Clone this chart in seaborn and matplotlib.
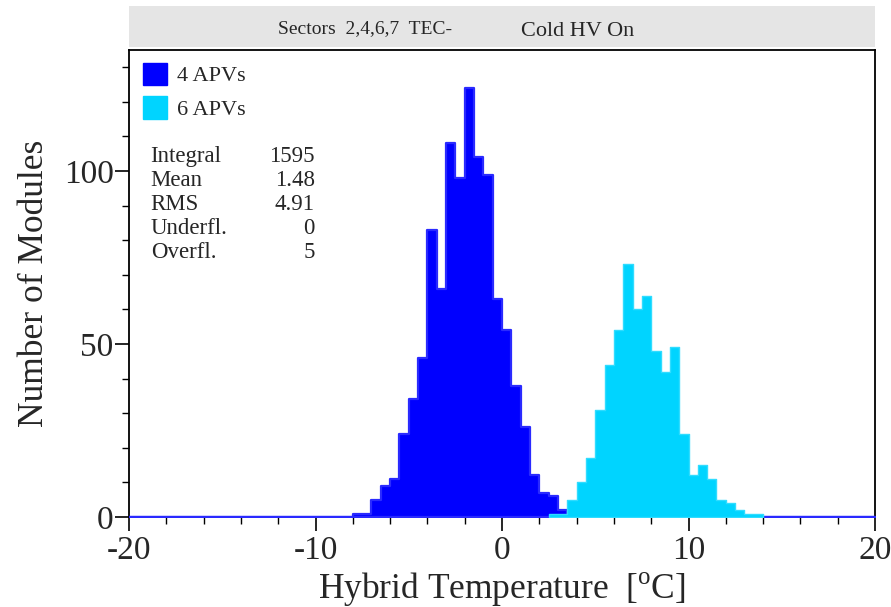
import numpy as np
import pandas as pd
import matplotlib
matplotlib.use("Agg")
import matplotlib.pyplot as plt
from matplotlib.patches import Patch, Rectangle
from matplotlib.ticker import MultipleLocator
import seaborn as sns

# ---- data ----
bin_width = 0.5
blue_left_edges = [-8.0, -7.5, -7.0, -6.5, -6.0, -5.5, -5.0, -4.5, -4.0, -3.5, -3.0, -2.5,
                   -2.0, -1.5, -1.0, -0.5, 0.0, 0.5, 1.0, 1.5, 2.0, 2.5, 3.0]
blue_counts = [1, 1, 5, 9, 11, 24, 34, 46, 83, 66, 108, 98,
               124, 104, 99, 63, 54, 38, 26, 12, 7, 6, 2]
cyan_left_edges = [2.5, 3.0, 3.5, 4.0, 4.5, 5.0, 5.5, 6.0, 6.5, 7.0, 7.5, 8.0,
                   8.5, 9.0, 9.5, 10.0, 10.5, 11.0, 11.5, 12.0, 12.5, 13.0, 13.5]
cyan_counts = [1, 1, 5, 10, 17, 31, 44, 54, 73, 60, 64, 48,
               42, 49, 24, 12, 15, 11, 5, 4, 2, 1, 1]
series_labels = ["4 APVs", "6 APVs"]
stats_names = ["Integral", "Mean", "RMS", "Underfl.", "Overfl."]
stats_values = ["1595", "1.48", "4.91", "0", "5"]
title_left = "Sectors  2,4,6,7  TEC-"
title_right = "Cold HV On"

BLUE = "#0000ff"
CYAN = "#00d4ff"

sns.set_style("white")
plt.rcParams["font.family"] = ["Liberation Serif", "DejaVu Serif"]
plt.rcParams["mathtext.fontset"] = "custom"
plt.rcParams["mathtext.rm"] = "Liberation Serif"
plt.rcParams["axes.unicode_minus"] = False

fig = plt.figure(figsize=(8.91, 6.07), dpi=100)
ax = fig.add_axes([129 / 891, 1 - 517 / 607, (875 - 129) / 891, (517 - 50) / 607])

blue_df = pd.DataFrame({"T": np.array(blue_left_edges) + bin_width / 2,
                        "n": np.array(blue_counts, dtype=float)})
cyan_df = pd.DataFrame({"T": np.array(cyan_left_edges) + bin_width / 2,
                        "n": np.array(cyan_counts, dtype=float)})

cyan_lo = cyan_left_edges[0]
cyan_hi = cyan_left_edges[-1] + bin_width

sns.histplot(data=blue_df, x="T", weights="n", binwidth=bin_width, binrange=(-20, 20),
             element="step", fill=True, color=BLUE, alpha=1.0, linewidth=1.6,
             edgecolor="#2a2aff", ax=ax)
sns.histplot(data=cyan_df, x="T", weights="n", binwidth=bin_width, binrange=(cyan_lo, cyan_hi),
             element="step", fill=True, color=CYAN, alpha=1.0, linewidth=1.0,
             edgecolor="#30dcff", ax=ax)

ax.set_xlim(-20, 20)
ax.set_ylim(0, 135)
ax.xaxis.set_major_locator(MultipleLocator(10))
ax.xaxis.set_minor_locator(MultipleLocator(2))
ax.yaxis.set_major_locator(MultipleLocator(50))
ax.yaxis.set_minor_locator(MultipleLocator(10))
ax.tick_params(axis="both", which="major", direction="out", length=10, width=1.2,
               labelsize=24, color="black", bottom=True, left=True)
ax.tick_params(axis="both", which="minor", direction="out", length=5, width=1.0,
               color="black", bottom=True, left=True)
ax.tick_params(axis="y", which="major", pad=1)
ax.tick_params(axis="x", which="major", pad=3)
for sp in ax.spines.values():
    sp.set_color("black")
    sp.set_linewidth(1.3)
    sp.set_zorder(0.5)

ax.set_xlabel(r"Hybrid Temperature  [$^{\rm o}$C]", fontsize=25.5, labelpad=3)
ax.set_ylabel("Number of Modules", fontsize=25.5, labelpad=9)

# legend
handles = [Patch(facecolor=BLUE, edgecolor=BLUE), Patch(facecolor=CYAN, edgecolor=CYAN)]
ax.legend(handles, series_labels, loc="upper left", bbox_to_anchor=(-0.008, 1.016),
          frameon=False, fontsize=16, handlelength=1.1, handleheight=1.2,
          handletextpad=0.45, labelspacing=0.45, borderaxespad=0.5)

# stats box text
y0 = 0.773
dy = 0.0515
for i, (nm, val) in enumerate(zip(stats_names, stats_values)):
    ax.text(0.029, y0 - i * dy, nm, transform=ax.transAxes, fontsize=16.5,
            va="center", ha="left")
    ax.text(0.249, y0 - i * dy, val, transform=ax.transAxes, fontsize=16.5,
            va="center", ha="right")

# title band
fig.patches.append(Rectangle((129 / 891, 1 - 47 / 607), (875 - 129) / 891, (47 - 6) / 607,
                             transform=fig.transFigure, facecolor="#e5e5e5",
                             edgecolor="none", zorder=0))
fig.text(365 / 891, 1 - 29 / 607, title_left, fontsize=14, ha="center", va="center")
fig.text(578 / 891, 1 - 31 / 607, title_right, fontsize=16, ha="center", va="center")

fig.savefig("out.png", dpi=100)
